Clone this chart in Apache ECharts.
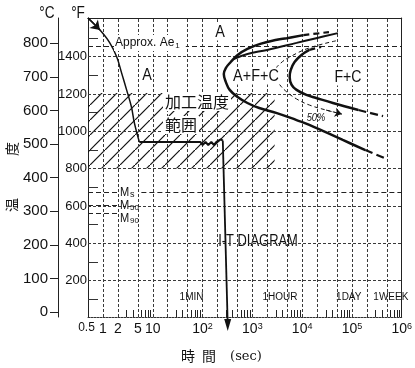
<!DOCTYPE html>
<html><head><meta charset="utf-8">
<script src="https://cdn.jsdelivr.net/npm/echarts@6/dist/echarts.min.js"></script>
<style>html,body{margin:0;padding:0;background:#fff}#c{width:415px;height:368px}</style>
</head><body><div id="c"></div>
<script>
// ---------- data (time in seconds, temperature in °C) ----------
const xTickTimes  = [0.5, 1, 2, 5, 10, 100, 1000, 10000, 100000, 1000000];
const xTickLabels = ['0.5', '1', '2', '5', '10', '10|2', '10|3', '10|4', '10|5', '10|6'];
const gridTimes   = [1, 2, 5, 10, 20, 50, 100, 200, 500, 1000, 2000, 5000, 10000, 20000, 50000, 100000, 200000, 500000];
const minorDecades = [1, 10, 100, 1000, 10000, 100000];
const minorSteps   = [3, 4, 6, 7, 8, 9];
const periodTimes  = [60, 3600, 86400, 604800];
const periodLabels = ['1MIN', '1HOUR', '1DAY', '1WEEK'];
const celsiusTicks = [0, 100, 200, 300, 400, 500, 600, 700, 800];
const fahrenheitTicks = [200, 400, 600, 800, 1000, 1200, 1400];
const fahrenheitMinor = [100, 300, 500, 700, 900, 1100, 1300, 1500];
const gridFahrenheit  = [200, 400, 600, 800, 1000, 1200, 1400];

const ae1Temp = 792;
const msTemp = 357, m50Temp = 318, m90Temp = 295;

const hatchTime = [0.5, 2800];
const hatchTemp = [427, 652];

// cooling from austenite
const coolTime = [0.5, 0.87, 1.37, 1.89, 2.37, 2.98, 3.73, 4.28, 5.37];
const coolTemp = [875, 839, 801, 759, 711, 661, 610, 562, 506];
// isothermal working with deformation (wavy part)
const holdTime = [5.37, 90, 100, 115, 130, 150, 169, 190, 204, 232, 255];
const holdTemp = [506, 506, 497, 506, 497, 506, 497, 506, 506, 514, 510];
// quench
const dropTime = [255, 320];
const dropTemp = [510, -39];

// transformation start (outer C curve)
const startTime = [10620, 4907, 3113, 1438, 796, 506, 368, 293, 267, 293, 351, 506, 796, 1374, 3113, 7730, 13940, 65400, 186000];
const startTemp = [824, 815, 810, 798, 783, 765, 744, 726, 708, 685, 661, 640, 622, 607, 592, 571, 557, 512, 482];
const startTopExtTime = [10620, 34600];
const startTopExtTemp = [824, 833];
const startLowExtTime = [186000, 506000];
const startLowExtTemp = [482, 455];
// second upper branch
const branchTime = [422, 796, 1977, 7730, 19170, 52100];
const branchTemp = [753, 768, 780, 801, 815, 830];
// 50 % line
const halfTime = [47600, 13940, 6150, 3733, 2974, 2974, 3566, 4907, 7730, 13940, 30200, 62500];
const halfTemp = [807, 786, 762, 741, 720, 696, 676, 655, 634, 616, 601, 589];
// transformation finish
const endTime = [13940, 9700, 7050, 5890, 5620, 6150, 7730, 12170, 19170, 41500, 135000];
const endTemp = [780, 765, 744, 720, 699, 676, 661, 646, 637, 622, 601];
const endTopExtTime = [13940, 24060];
const endTopExtTemp = [780, 789];
const endLowExtTime = [135000, 422000];
const endLowExtTemp = [601, 583];

// ---------- chart ----------
const L = Math.log10;
const XMIN = L(xTickTimes[0]), XMAX = L(xTickTimes[xTickTimes.length - 1]);
const YMIN = -15, YMAX = 875;
const cToF = c => c * 1.8 + 32, fToC = f => (f - 32) / 1.8;
const pts = (ts, Ts) => ts.map((t, i) => [L(t), Ts[i]]);
const SANS = "'Liberation Sans',Arial,sans-serif";
const CJK = "'Noto Sans CJK JP',sans-serif";
const INK = '#111';

const minorTimes = [];
minorDecades.forEach(d => minorSteps.forEach(s => minorTimes.push(s * d)));

// hatch pattern
const pc = document.createElement('canvas');
pc.width = 15; pc.height = 15;
const g = pc.getContext('2d');
g.strokeStyle = '#111'; g.lineWidth = 1.2;
g.beginPath(); g.moveTo(0, 15); g.lineTo(15, 0); g.stroke();

const chart = echarts.init(document.getElementById('c'), null, {renderer: 'canvas'});

const lineSeries = (data, width, type, extra) => Object.assign({
  type: 'line', data, showSymbol: false, smooth: 0.4, z: 5,
  lineStyle: {color: INK, width, type: type || 'solid'}, silent: true
}, extra || {});

const seg = (t1, T1, t2, T2) => [{coord: [L(t1), T1]}, {coord: [L(t2), T2]}];

function txt(text, x, y, size, o) {
  o = o || {};
  const st = {
    text, font: (o.style ? o.style + ' ' : '') + size + 'px ' + (o.family || SANS),
    fill: INK, align: o.align || 'center', verticalAlign: 'middle',
    textAlign: o.align || 'center', textVerticalAlign: 'middle'
  };
  if (o.rich) st.rich = o.rich;
  if (o.bg) { st.backgroundColor = '#fff'; st.padding = o.pad || [1, 2]; }
  return {type: 'text', x, y, z: o.z == null ? 100 : o.z, rotation: o.rot || 0,
          scaleX: o.sx || 1, scaleY: 1, style: st, silent: true};
}

const numFmt = v => String(v);

const option = {
  animation: false,
  backgroundColor: '#fff',
  grid: [
    {left: 88, right: 8, top: 18, bottom: 51, show: false},
    {left: 58, width: 1, top: 18, bottom: 51, show: false}
  ],
  xAxis: [
    {type: 'value', min: XMIN, max: XMAX, position: 'bottom',
     axisLine: {show: true, onZero: false, lineStyle: {color: '#333', width: 1, type: [2, 1]}},
     axisTick: {show: false}, splitLine: {show: false},
     axisLabel: {customValues: xTickTimes.map(L), margin: 5, showMinLabel: true, showMaxLabel: true,
       formatter: v => {
         const i = xTickTimes.findIndex(t => Math.abs(L(t) - v) < 1e-6);
         if (i < 0) return '';
         const p = xTickLabels[i].split('|');
         if (p.length > 1) return '{b|' + p[0] + '}{s|' + p[1] + '}';
         return (i === 0 ? '{c|' : '{b|') + p[0] + '}';
       },
       rich: {b: {fontSize: 14, fontFamily: SANS, color: INK},
              c: {fontSize: 12, fontFamily: SANS, color: INK, padding: [0, 3, 0, 0]},
              s: {fontSize: 9, fontFamily: SANS, color: INK, verticalAlign: 'top'}}}},
    {type: 'value', min: XMIN, max: XMAX, position: 'bottom',
     axisLine: {show: false, onZero: false}, splitLine: {show: false}, axisLabel: {show: false},
     axisTick: {show: true, inside: true, length: 7, customValues: minorTimes.map(L), lineStyle: {color: '#222'}}},
    {type: 'value', min: XMIN, max: XMAX, position: 'bottom',
     axisLine: {show: false, onZero: false}, splitLine: {show: false}, axisTick: {show: false},
     axisLabel: {inside: true, margin: 15, customValues: periodTimes.map(L), fontSize: 10, fontFamily: SANS, color: INK,
       formatter: v => { const i = periodTimes.findIndex(t => Math.abs(L(t) - v) < 1e-6); return i < 0 ? '' : periodLabels[i]; }}},
    {type: 'value', min: XMIN, max: XMAX, position: 'top',
     axisLine: {show: true, onZero: false, lineStyle: {color: '#222'}}, axisTick: {show: false},
     axisLabel: {show: false}, splitLine: {show: false}},
    {type: 'value', gridIndex: 1, min: 0, max: 1, show: false}
  ],
  yAxis: [
    {type: 'value', min: YMIN, max: YMAX, show: false},
    {type: 'value', min: cToF(YMIN), max: cToF(YMAX), position: 'left', offset: 0,
     axisLine: {show: true, onZero: false, lineStyle: {color: '#222'}},
     axisTick: {show: false},
     axisLabel: {customValues: fahrenheitTicks, formatter: numFmt, margin: 1, fontSize: 13, fontFamily: SANS, color: INK},
     splitLine: {show: false}},
    {type: 'value', min: cToF(YMIN), max: cToF(YMAX), position: 'left', offset: 0,
     axisLine: {show: false, onZero: false}, axisLabel: {show: false}, splitLine: {show: false},
     axisTick: {show: true, inside: true, length: 10, customValues: fahrenheitMinor, lineStyle: {color: '#333'}}},
    {type: 'value', min: YMIN, max: YMAX, position: 'right',
     axisLine: {show: true, onZero: false, lineStyle: {color: '#222'}}, axisTick: {show: false},
     axisLabel: {show: false}, splitLine: {show: false}},
    {type: 'value', gridIndex: 1, min: YMIN, max: YMAX, position: 'left',
     axisLine: {show: true, onZero: false, lineStyle: {color: '#222'}},
     axisTick: {show: true, length: 8, customValues: celsiusTicks, lineStyle: {color: '#222'}},
     axisLabel: {customValues: celsiusTicks, formatter: numFmt, margin: 10, fontSize: 15, fontFamily: SANS, color: INK},
     splitLine: {show: false}}
  ],
  series: [
    // grid + hatched working range
    {type: 'line', data: [], z: 1, silent: true,
     markLine: {symbol: 'none', silent: true, label: {show: false},
       lineStyle: {color: '#3a3a3a', width: 1, type: [3, 2]},
       data: gridTimes.map(t => ({xAxis: L(t)})).concat(gridFahrenheit.map(f => ({yAxis: fToC(f)})))},
     markArea: {silent: true, itemStyle: {color: {image: pc, repeat: 'repeat'}},
       data: [[{coord: [L(hatchTime[0]), hatchTemp[0]]}, {coord: [L(hatchTime[1]), hatchTemp[1]]}]]}},
    // Ae1 and Ms / M50 / M90
    {type: 'line', data: [], z: 2, silent: true,
     markLine: {symbol: 'none', silent: true, label: {show: false},
       lineStyle: {color: '#222', width: 1, type: [5, 3]},
       data: [seg(xTickTimes[0], ae1Temp, xTickTimes[xTickTimes.length - 1], ae1Temp),
              seg(xTickTimes[0], msTemp, 2, msTemp), seg(5.9, msTemp, xTickTimes[xTickTimes.length - 1], msTemp),
              seg(xTickTimes[0], m50Temp, 2, m50Temp), seg(xTickTimes[0], m90Temp, 2, m90Temp)]}},
    // process path
    lineSeries(pts(coolTime, coolTemp), 1.5, 'solid', {
      markLine: {silent: true, symbol: ['none', 'arrow'], symbolSize: 9, label: {show: false},
        lineStyle: {color: INK, width: 1.5, type: 'solid'},
        data: [seg(coolTime[0], coolTemp[0], coolTime[1], coolTemp[1])]}}),
    lineSeries(pts(holdTime, holdTemp), 2, 'solid', {smooth: false}),
    lineSeries(pts(dropTime, dropTemp).map((p, i) => i === 0 ? {value: p, symbol: 'none'} :
      {value: p, symbol: 'triangle', symbolSize: [7, 12], symbolRotate: 180, itemStyle: {color: INK}}),
      1.8, 'solid', {smooth: false, showSymbol: true, showAllSymbol: true, clip: false, z: 6}),
    // C-curves
    lineSeries(pts(startTime, startTemp), 2.5),
    lineSeries(pts(startTopExtTime, startTopExtTemp), 2.2, [6, 4]),
    lineSeries(pts(startLowExtTime, startLowExtTemp), 2.2, [8, 4]),
    lineSeries(pts(branchTime, branchTemp), 2),
    lineSeries(pts(endTime, endTemp), 2.5),
    lineSeries(pts(endTopExtTime, endTopExtTemp), 2.2, [6, 4]),
    lineSeries(pts(endLowExtTime, endLowExtTemp), 2.2, [8, 4]),
    lineSeries(pts(halfTime, halfTemp), 1, [4, 3], {
      markLine: {silent: true, symbol: ['none', 'arrow'], symbolSize: 7, label: {show: false},
        lineStyle: {color: INK, width: 1, type: [4, 3]},
        data: [seg(halfTime[halfTime.length - 2], halfTemp[halfTemp.length - 2], halfTime[halfTime.length - 1], halfTemp[halfTemp.length - 1])]}})
  ],
  graphic: [
    txt('°C', 47, 13, 17, {sx: 0.8}),
    txt('°F', 78, 13, 17, {sx: 0.8}),
    txt('温　　　度', 12, 177, 14, {family: CJK, rot: Math.PI / 2}),
    txt('時', 188, 356, 14, {family: CJK}),
    txt('間', 209, 356, 14, {family: CJK}),
    txt('(sec)', 246, 357, 13, {family: "'DejaVu Serif','Liberation Serif',serif"}),
    txt('{a|Approx. Ae}{b|1}', 114, 43, 12, {align: 'left', bg: true, pad: [1, 6, 1, 1],
      rich: {a: {fontSize: 12, fontFamily: SANS, color: INK}, b: {fontSize: 8, fontFamily: SANS, color: INK, verticalAlign: 'bottom', padding: [6, 0, 0, 1]}}}),
    txt('A', 220, 32, 17, {bg: true, pad: [0, 1], sx: 0.85}),
    txt('A', 147, 75, 17, {sx: 0.85}),
    txt('A+F+C', 256, 76, 17, {bg: true, pad: [0, 1], sx: 0.85}),
    txt('F+C', 348, 77, 17, {bg: true, pad: [0, 1], sx: 0.83}),
    txt('50%', 316, 118, 11, {style: 'italic', sx: 0.85}),
    txt('加工温度', 197, 102, 16, {family: CJK, bg: true, pad: [1, 2]}),
    txt('範囲', 181, 125, 16, {family: CJK, bg: true, pad: [1, 2]}),
    txt('M', 120, 192, 13, {align: 'left', sx: 0.85}),
    txt('s', 130, 195, 9, {align: 'left'}),
    txt('M', 120, 205, 13, {align: 'left', sx: 0.85}),
    txt('50', 130, 208, 8, {align: 'left'}),
    txt('M', 120, 218, 13, {align: 'left', sx: 0.85}),
    txt('90', 130, 221, 8, {align: 'left'}),
    txt('I-T DIAGRAM', 258, 241, 17, {bg: true, pad: [1, 2], z: 1, sx: 0.76})
  ]
};
chart.setOption(option);
</script></body></html>
